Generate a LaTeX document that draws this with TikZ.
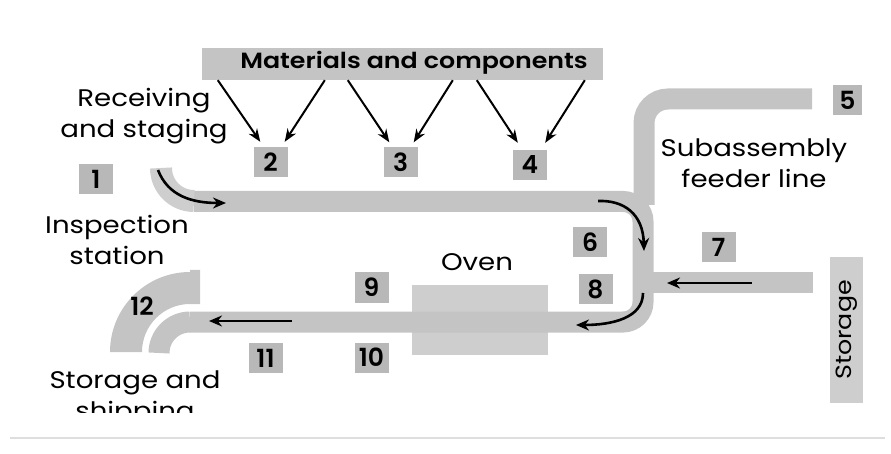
\documentclass[tikz,border=0pt]{standalone}
\usepackage{fontspec}
\setmainfont{Poppins}
\newfontfamily\labelfont[FakeStretch=1.15]{Poppins}
\newfontfamily\numfont{Poppins SemiBold}
\newfontfamily\headfont[FakeStretch=1.15]{Poppins SemiBold}
\usetikzlibrary{arrows.meta,calc}

\definecolor{bandgray}{RGB}{196,196,196}
\definecolor{bandlight}{RGB}{206,206,206}
\definecolor{boxgray}{RGB}{184,184,184}
\definecolor{ovengray}{RGB}{206,206,206}
\definecolor{storegray}{RGB}{206,206,206}
\definecolor{rulegray}{RGB}{222,222,222}

\begin{document}
\begin{tikzpicture}[x=1pt,y=-1pt,
  band/.style={line width=21pt, draw=bandgray},
  numbox/.style={fill=boxgray, inner sep=0pt, minimum width=34pt,
    minimum height=30pt, font=\numfont\fontsize{25}{25}\selectfont},
  lbl/.style={font=\labelfont\fontsize{24}{31}\selectfont, align=center, inner sep=0pt},
  flow/.style={line width=2.6pt, -{Stealth[length=13pt,width=11pt]}},
  feed/.style={line width=2pt, -{Stealth[length=13pt,width=10pt]}},
]
\useasboundingbox (0,0) rectangle (891,454);

% supply bar for materials and components
\node[fill=bandgray, minimum width=401pt, minimum height=32pt, inner sep=0pt]
  (mat) at (402.5,64) {};
\node[font=\headfont\fontsize{22}{22}\selectfont, inner sep=0pt] (matlbl)
  at (414,63) {Materials and components};

% oven housing (drawn first, the line runs through it)
\node[fill=ovengray, minimum width=136pt, minimum height=70pt, inner sep=0pt]
  (oven) at (480,320) {};

% main assembly line loop
\draw[band, rounded corners=20pt] (194,201.5) -- (643,201.5) -- (643,322) -- (190,322);
\draw[band] (190,322) arc[start angle=270, end angle=180, radius=31];
\draw[line width=22pt, draw=bandlight] (161,168) arc[start angle=180, end angle=90, radius=33];

% subassembly feeder line
\draw[band, rounded corners=24pt] (644,205) -- (644,99) -- (812,99);

% line from storage
\draw[band] (643,282.5) -- (813,282.5);

% storage and shipping curve
\begin{scope}
  \clip (100,260) rectangle (200,360);
  \fill[bandgray] (110,352) arc[start angle=180, end angle=270, radius=80]
    -- (190,270) -- (210,270) -- (210,304)
    -- (190,304) arc[start angle=270, end angle=180, radius=48] -- cycle;
\end{scope}

% storage rack
\node[fill=storegray, minimum width=33pt, minimum height=146pt, inner sep=0pt]
  (store) at (846.5,330) {};
\node[rotate=90, font=\labelfont\fontsize{22}{22}\selectfont, inner sep=0pt] (storelbl)
  at (store.center) {Storage};

% numbered stations
\node[numbox] (n1) at (96,179) {1};
\node[numbox] (n2) at (270.5,162) {2};
\node[numbox] (n3) at (400.5,162.5) {3};
\node[numbox] (n4) at (530,165) {4};
\node[numbox, minimum width=29pt] (n5) at (847.5,100.5) {5};
\node[numbox] (n6) at (590,242) {6};
\node[numbox] (n7) at (718.5,247) {7};
\node[numbox] (n8) at (595.5,289) {8};
\node[numbox] (n9) at (371.5,287.5) {9};
\node[numbox] (n10) at (371.5,357.5) {10};
\node[numbox] (n11) at (265.5,358) {11};
\node[font=\numfont\fontsize{25}{25}\selectfont, inner sep=0pt] (n12) at (142,306) {12};

% material deliveries
\draw[feed] ($(mat.south west)+(16,0)$)  -- ($(n2.north west)+(7,-5)$);
\draw[feed] ($(mat.south west)+(123,0)$) -- ($(n2.north east)+(-3,-5)$);
\draw[feed] ($(mat.south west)+(146,0)$) -- ($(n3.north west)+(6,-5)$);
\draw[feed] ($(mat.south west)+(251,0)$) -- ($(n3.north east)+(-4,-5)$);
\draw[feed] ($(mat.south west)+(275,0)$) -- ($(n4.north west)+(5,-7)$);
\draw[feed] ($(mat.south west)+(383,0)$) -- ($(n4.north east)+(-2,-7)$);

% direction of flow along the line
\coordinate (fa1) at (158,170);  \coordinate (fa2) at (226,203);
\coordinate (fb1) at (598,201);  \coordinate (fb2) at (644,251);
\coordinate (fc1) at (643,293);  \coordinate (fc2) at (576,325);
\coordinate (fd1) at (752,283);  \coordinate (fd2) at (667,283);
\coordinate (fe1) at (292,321);  \coordinate (fe2) at (209,321);
\draw[flow] (fa1) .. controls (168,196) and (192,203) .. (fa2);
\draw[flow] (fb1) .. controls (624,200) and (643,214) .. (fb2);
\draw[flow] (fc1) .. controls (643,318) and (612,325) .. (fc2);
\draw[flow] (fd1) -- (fd2);
\draw[flow] (fe1) -- (fe2);

% area labels (base anchor sits on the last line)
\node[lbl, anchor=base] (recv) at (144,138) {Receiving\\and staging};
\node[lbl, anchor=base] (insp) at (117,265) {Inspection\\station};
\node[lbl, anchor=base] (sub) at (754,188) {Subassembly\\feeder line};
\node[lbl, anchor=base] (ovenlbl) at (477,270) {Oven};
\begin{scope}
  \clip (0,0) rectangle (891,412);
  \node[lbl, anchor=base] (ship) at (135,419) {Storage and\\shipping};
\end{scope}

% page edge rule
\draw[line width=1.5pt, rulegray] (10,438) -- (885,438);
\end{tikzpicture}
\end{document}
